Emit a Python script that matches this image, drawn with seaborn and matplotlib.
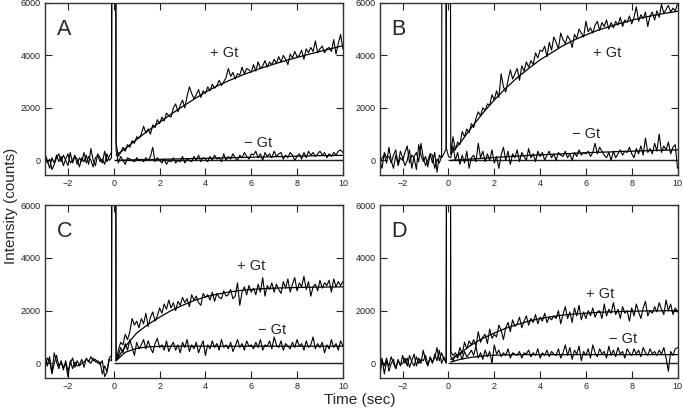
import numpy as np
import pandas as pd
import matplotlib
matplotlib.use("Agg")
import matplotlib.pyplot as plt
import seaborn as sns

# time axis (sec), 0.1 s sampling
t = np.round(np.arange(-30, 101) / 10.0, 1)
t_fit = [0.1, 0.5, 1.0, 1.5, 2.0, 2.5, 3.0, 3.5, 4.0, 4.5, 5.0,
         5.5, 6.0, 6.5, 7.0, 7.5, 8.0, 8.5, 9.0, 9.5, 10.0]
SPIKE = 60000  # flash artefact, clipped by the axes

# ---- panel A ----
a_plus_pre = [150, -100, 50, -350, -150, 100, 250, -50, 200, 0, -200, 300, -100, 150, 50,
              -250, 100, -50, 200, -150, 450, 0, -200, 250, 100, -100, 350, -50, 150, 300]
a_plus_post = [650, 150, 300, 500, 350, 600, 500, 750, 650, 900,
               850, 1000, 1300, 1050, 1200, 1000, 1350, 1250, 1550, 1400,
               1650, 1500, 1800, 1700, 1650, 2000, 2150, 1850, 2100, 2300,
               2000, 2450, 2800, 2550, 2350, 2500, 2700, 2400, 2650, 2550,
               2800, 2650, 2900, 2750, 2850, 3050, 2850, 3000, 3150, 3500,
               3200, 3350, 3100, 3300, 3250, 3550, 3300, 3500, 3450, 3350,
               3650, 3400, 3750, 3500, 3600, 3800, 3550, 3750, 3650, 3850,
               3700, 3950, 3750, 4000, 3850, 3650, 4050, 3900, 4150, 3950,
               4000, 4200, 3850, 4250, 4100, 4300, 4150, 4550, 4100, 4250,
               4350, 4100, 4250, 4300, 4150, 4600, 4050, 4450, 4800, 4250]
a_minus_pre = [250, 0, -300, 100, -100, 200, -50, 150, -200, 50, 250, -100, 0, 200, -150,
               100, -50, 300, -100, 150, 0, -250, 100, 200, -50, 50, -150, 250, 0, 100]
a_minus_post = [400, -100, 150, 0, -150, 100, 50, 0, -50, 100,
                0, 50, -50, 100, 0, 150, 500, -50, 100, 0,
                -100, 50, -150, 0, -50, 100, -100, 0, -50, 150,
                -100, 50, 0, -50, 150, 0, 200, -50, 100, 50,
                -50, 150, 0, 200, 50, 100, -50, 250, 0, 150,
                50, 250, 100, 0, 200, 100, 300, 150, 50, 250,
                200, 350, 100, 250, 0, 300, 150, 250, 100, 350,
                150, 250, 300, 50, 200, 100, 300, 200, 0, 150,
                250, 50, 300, 100, 350, 200, 300, 150, 250, 350,
                200, 300, 100, 250, 150, 300, 200, 350, 400, 300]
a_plus_fit = [200, 450, 800, 1130, 1450, 1760, 2050, 2330, 2600, 2830, 3030,
              3210, 3380, 3530, 3670, 3800, 3920, 4040, 4150, 4260, 4370]
a_minus_fit = [0, 10, 20, 30, 40, 50, 60, 70, 80, 90, 100,
               110, 120, 130, 140, 150, 160, 170, 180, 185, 190]

# ---- panel B ----
b_plus_pre = [0, -300, 300, 100, 150, -100, 200, 400, -200, 100, 0, 300, 550, -100, 200,
              100, -350, 600, 200, -50, 150, -250, 250, -100, 300, -450, 200, 100, 250, 450]
b_plus_post = [250, 900, 400, 700, 600, 1100, 900, 1200, 1050, 1400,
               1250, 1600, 1850, 1700, 2000, 1900, 2150, 2100, 2500, 2300,
               2650, 2400, 3300, 2800, 2600, 3050, 3450, 3100, 3300, 3500,
               3050, 3600, 3400, 3750, 3550, 3800, 3650, 4100, 3900, 4200,
               4150, 4350, 3950, 4500, 4200, 4700, 4500, 4250, 4850, 4600,
               4450, 4750, 4600, 4300, 4800, 4650, 5000, 4850, 4700, 5300,
               4900, 5050, 4850, 5150, 5300, 4950, 5250, 5100, 5350, 5000,
               5250, 5050, 5300, 5150, 5450, 5100, 5350, 5250, 5500, 5200,
               5450, 5850, 5300, 5550, 5400, 5650, 5100, 5500, 5650, 5350,
               5700, 5450, 5950, 5600, 5750, 5900, 5650, 5800, 5700, 5950]
b_minus_pre = [-200, 100, 200, -100, 500, 0, -300, 200, -150, 350, 100, -200, 0, 400, -300,
               150, 300, -50, 650, 100, -200, 0, 250, 200, -300, 50, -100, 150, SPIKE, 500]
b_minus_zero = 150
b_minus_post = [100, 550, 0, 300, -150, 200, -100, 350, -300, 100,
                200, -50, 650, 100, 350, -50, 250, 0, 400, -100,
                150, -300, 200, 500, 0, 350, -150, 250, 100, 400,
                -50, 300, 150, 0, 450, 100, 250, -50, 350, 150,
                300, 0, 200, 350, 100, 250, 0, 300, 200, 150,
                350, 100, 250, 0, 300, 150, 400, 200, 300, 250,
                350, 150, 300, 650, 250, 500, 350, 200, 100, 300,
                0, 350, 100, 250, 400, 200, 350, 300, 500, 250,
                100, 450, 250, 550, 200, 850, 300, 450, 250, 650,
                350, 1000, 300, 550, 400, 700, 250, 500, 600, -300]
b_plus_fit = [250, 650, 1250, 1800, 2300, 2750, 3150, 3500, 3830, 4100, 4370,
              4590, 4780, 4950, 5090, 5220, 5340, 5440, 5530, 5610, 5680]
b_minus_fit = [0, 20, 50, 80, 110, 140, 160, 190, 210, 230, 250,
               270, 290, 310, 320, 340, 350, 365, 380, 390, 400]

# ---- panel C ----
c_plus_pre = [300, -100, 250, -350, 400, 50, -200, 100, -150, 0, -500, 100, -200, 50, -100,
              -50, 150, -150, 200, 50, 250, 100, 150, 0, 50, -400, -100, -300, 200, 300]
c_plus_post = [100, 500, 800, 700, 1100, 900, 1200, 1700, 1450, 1600,
               1350, 1700, 1500, 1900, 1400, 1750, 1950, 1600, 1800, 2100,
               1900, 2250, 2050, 2400, 2100, 2300, 2000, 2350, 2200, 2500,
               2300, 2450, 2150, 2600, 2400, 2550, 2300, 2200, 2650, 2500,
               2600, 2400, 2700, 2350, 2650, 2500, 2450, 2750, 2550, 2600,
               2800, 2450, 2550, 3050, 2200, 2700, 2900, 2600, 2950, 2700,
               2850, 2600, 3000, 2700, 3250, 2550, 2950, 2800, 3050, 2700,
               3000, 2800, 2650, 3100, 2850, 3200, 2700, 3000, 3250, 2750,
               3050, 2900, 3300, 2800, 3100, 2550, 2900, 3000, 2750, 3150,
               2850, 3050, 2950, 3150, 2700, 3200, 2900, 3100, 2950, 3100]
c_minus_pre = [-200, 200, 100, -400, 0, 300, -100, 50, -250, 100, -300, 0, 200, -150, 100,
               -100, 0, 50, 150, 100, 0, 200, 50, 100, -50, 100, -500, -350, 150, 100]
c_minus_post = [100, 300, 600, 400, 750, 500, 900, 600, 300, 800,
                550, 700, 900, 550, 850, 600, 400, 750, 950, 600,
                700, 500, 850, 450, 650, 800, 500, 700, 400, 800,
                600, 900, 450, 700, 550, 800, 400, 650, 850, 300,
                700, 550, 850, 600, 750, 500, 900, 600, 700, 550,
                800, 450, 650, 900, 600, 750, 500, 850, 650, 700,
                550, 800, 600, 900, 500, 700, 650, 850, 550, 1000,
                700, 600, 850, 500, 750, 650, 550, 800, 600, 900,
                650, 750, 500, 850, 600, 700, 1000, 550, 750, 600,
                800, 400, 700, 550, 900, 600, 750, 500, 850, 650]
c_plus_fit = [100, 640, 1150, 1480, 1750, 2000, 2200, 2380, 2520, 2620, 2700,
              2760, 2800, 2830, 2850, 2865, 2875, 2885, 2890, 2895, 2900]
c_minus_fit = [100, 420, 570, 625, 645, 650, 650, 650, 650, 650, 650,
               650, 650, 650, 650, 650, 650, 650, 650, 650, 650]

# ---- panel D ----
d_plus_pre = [-200, 200, -400, 100, -100, 250, 0, -200, 150, -100, 300, 0, 200, -150, 100,
              350, -100, 200, 0, 500, 100, -100, 250, 50, 200, 600, 100, 400, 150, 50]
d_plus_post = [450, 300, 400, 250, 600, 350, 800, 550, 850, 700,
               900, 650, 1200, 800, 1000, 1100, 750, 1300, 950, 1100,
               1000, 1450, 1250, 900, 1350, 1550, 1200, 1650, 1400, 1500,
               1750, 1350, 1600, 1800, 1450, 1700, 1550, 1850, 1500, 1750,
               1600, 1900, 1550, 1750, 1650, 1800, 1700, 2000, 1500, 1850,
               2150, 1700, 1950, 1550, 2100, 1800, 2200, 1650, 1950, 1700,
               2000, 1800, 2100, 1750, 1950, 2000, 1700, 2250, 1800, 2050,
               1900, 2300, 1850, 2050, 1700, 2150, 1900, 2000, 1600, 2100,
               1800, 2250, 1950, 1700, 2100, 2350, 1800, 2000, 1900, 2150,
               1950, 2300, 2050, 1850, 2400, 2000, 2250, 1850, 2100, 1950]
d_minus_pre = [-500, 100, -100, 200, -300, 0, 150, -200, 100, -50, 0, 200, -100, 300, 50,
               -100, 250, 0, 150, 100, 300, -50, 200, 0, 350, 100, 500, 0, 250, 0]
d_minus_post = [250, 100, 300, 200, 400, 150, 450, 250, 350, 500,
                300, 650, 200, 400, 150, 500, 250, 450, 0, 700,
                350, 500, 250, 400, 300, 550, 200, 400, 350, 300,
                450, 200, 400, 350, 500, 250, 400, 300, 550, 200,
                400, 300, 500, 250, 450, 350, 300, 550, 200, 400,
                700, 300, 600, 150, 500, 350, 650, 100, 450, 300,
                550, 200, 700, 400, 250, 550, 350, 450, 200, 650,
                300, 500, 250, 600, 350, 450, 200, 550, 400, 300,
                550, 350, 500, 250, 600, 400, 300, 550, 350, 450,
                300, 500, 350, 600, 200, -300, 450, 300, 550, 600]
d_plus_fit = [150, 380, 700, 950, 1150, 1330, 1470, 1600, 1700, 1770, 1830,
              1870, 1900, 1930, 1950, 1965, 1975, 1985, 1990, 1995, 2000]
d_minus_fit = [50, 150, 230, 280, 310, 320, 330, 330, 330, 330, 330,
               330, 330, 330, 330, 330, 330, 330, 330, 330, 330]

panels = [
    ("A", a_plus_pre + [SPIKE] + a_plus_post, a_minus_pre + [SPIKE] + a_minus_post,
     a_plus_fit, a_minus_fit, (4.2, 4100), (5.7, 680)),
    ("B", b_plus_pre + [SPIKE] + b_plus_post, b_minus_pre + [b_minus_zero] + b_minus_post,
     b_plus_fit, b_minus_fit, (6.3, 4100), (5.4, 1000)),
    ("C", c_plus_pre + [SPIKE] + c_plus_post, c_minus_pre + [SPIKE] + c_minus_post,
     c_plus_fit, c_minus_fit, (5.4, 3700), (6.3, 1270)),
    ("D", d_plus_pre + [SPIKE] + d_plus_post, d_minus_pre + [SPIKE] + d_minus_post,
     d_plus_fit, d_minus_fit, (6.0, 2630), (7.0, 930)),
]

sns.set_theme(style="ticks")
plt.rcParams['font.family'] = ['Liberation Sans', 'DejaVu Sans']

fig = plt.figure(figsize=(6.83, 4.11), dpi=100)
boxes = [[0.066, 0.574, 0.436, 0.419], [0.556, 0.574, 0.436, 0.419],
         [0.066, 0.080, 0.436, 0.421], [0.556, 0.080, 0.436, 0.421]]

for box, (letter, plus, minus, pfit, mfit, ppos, mpos) in zip(boxes, panels):
    ax = fig.add_axes(box)
    df = pd.DataFrame({"t": t, "plus": plus, "minus": minus})
    ax.hlines(0, 0, 10, color="#222222", lw=1.0)
    sns.lineplot(data=df, x="t", y="minus", ax=ax, color="black", lw=0.8, estimator=None)
    sns.lineplot(data=df, x="t", y="plus", ax=ax, color="black", lw=0.8, estimator=None)
    sns.lineplot(x=t_fit, y=pfit, ax=ax, color="black", lw=0.9, estimator=None)
    sns.lineplot(x=t_fit, y=mfit, ax=ax, color="black", lw=0.9, estimator=None)
    ax.set_xlim(-3, 10)
    ax.set_ylim(-560, 6000)
    ax.set_xticks([-2, 0, 2, 4, 6, 8, 10])
    ax.set_yticks([0, 2000, 4000, 6000])
    ax.tick_params(direction="in", top=True, right=True, length=5, width=0.8,
                   labelsize=6.5, colors="#222222", pad=3)
    for s in ax.spines.values():
        s.set_color("#333333")
        s.set_linewidth(1.0)
    ax.set_xlabel("")
    ax.set_ylabel("")
    ax.text(-2.5, 5000, letter, fontsize=15.5, va="center", ha="left")
    ax.text(ppos[0], ppos[1], "+ Gt", fontsize=10.5, va="center", ha="left")
    ax.text(mpos[0], mpos[1], "\u2212 Gt", fontsize=10.5, va="center", ha="left")

fig.text(0.527, 0.027, "Time (sec)", ha="center", va="center", fontsize=11)
fig.text(0.016, 0.5, "Intensity (counts)", ha="center", va="center", rotation=90, fontsize=11)

fig.savefig("out.png", dpi=100)
